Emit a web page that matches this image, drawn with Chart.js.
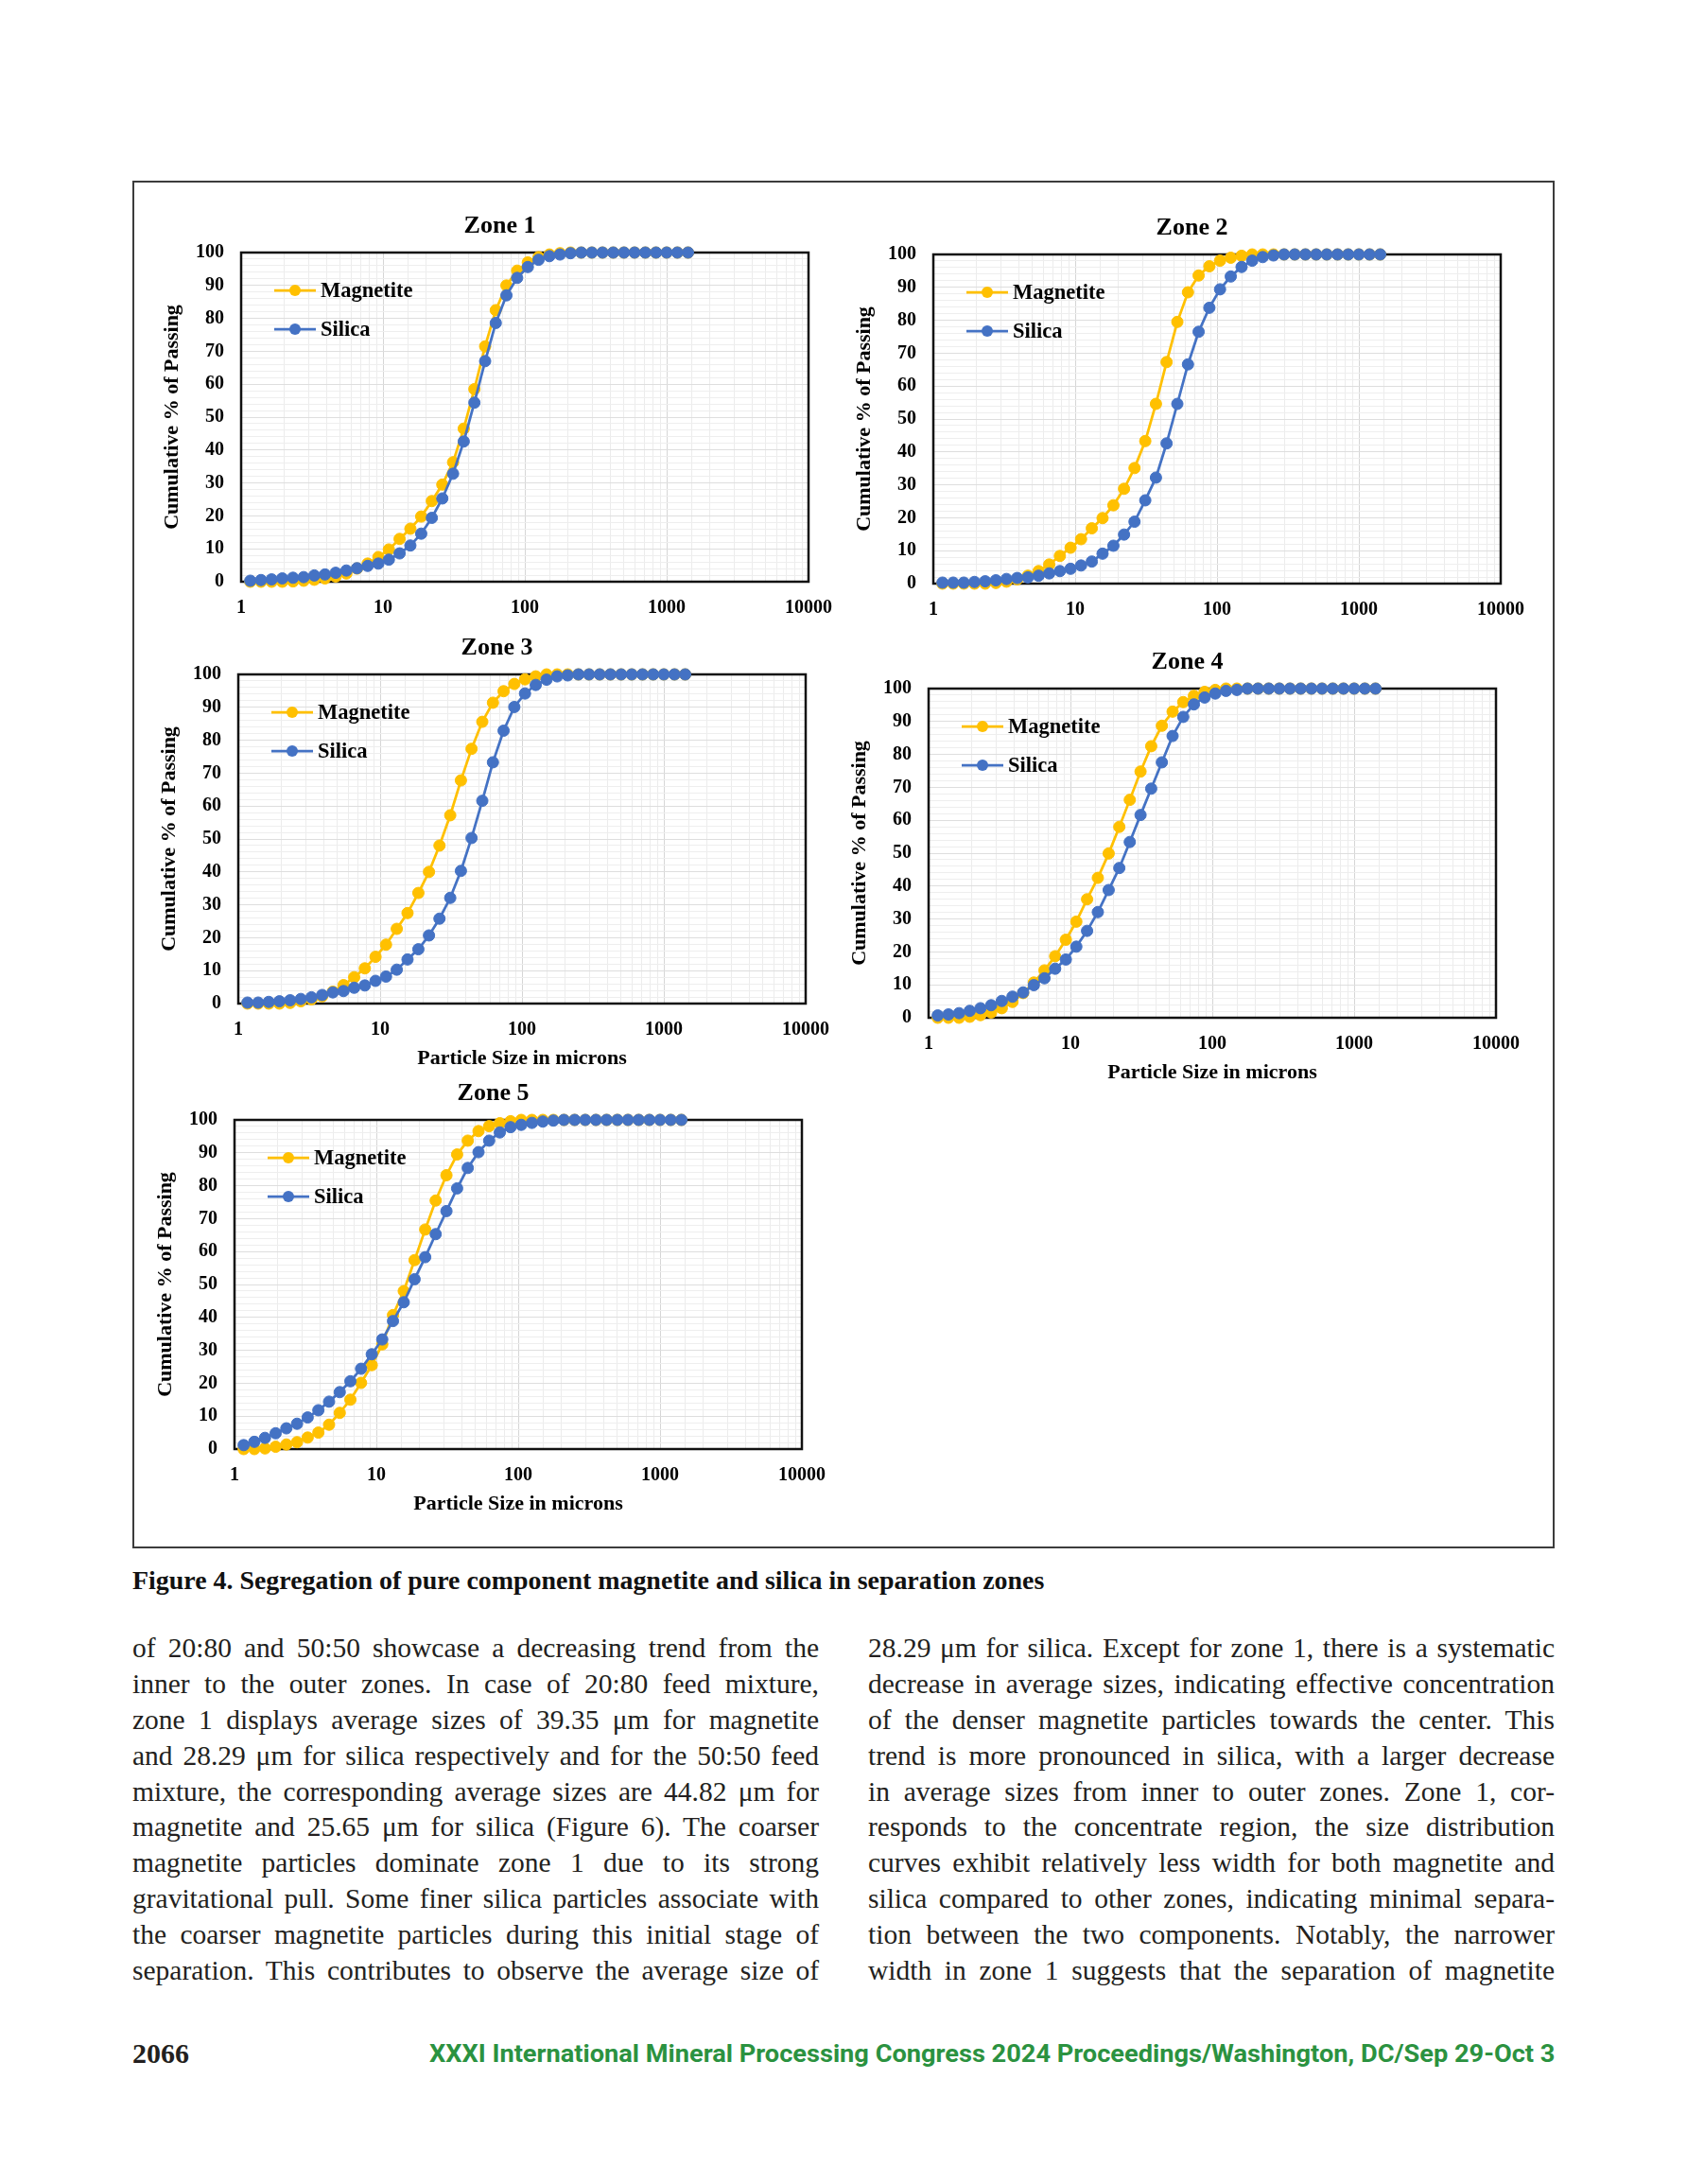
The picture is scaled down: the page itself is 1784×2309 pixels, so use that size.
<!DOCTYPE html>
<html>
<head>
<meta charset="utf-8">
<script src="https://cdn.jsdelivr.net/npm/chart.js@4.4.1/dist/chart.umd.min.js"></script>
<style>
  body { margin: 0; background: #fff; width: 1784px; height: 2309px; position: relative; overflow: hidden; }
  #frame { position: absolute; left: 140px; top: 191px; width: 1500px; height: 1442px; border: 2px solid #3c3c3c; }
  .zone { position: absolute; }
  #caption { position: absolute; left: 140px; top: 1655px; font: bold 28px 'Liberation Serif', serif; color: #111; white-space: nowrap; }
  .col { position: absolute; top: 1724px; width: 726px; font: 29.5px 'Liberation Serif', serif; color: #231f20; }
  .col div { height: 37.9px; line-height: 37.9px; text-align: justify; text-align-last: justify; white-space: nowrap; }
  #pageno { position: absolute; left: 140px; top: 2154px; font: bold 30px 'Liberation Serif', serif; color: #231f20; }
  #running { position: absolute; right: 140px; top: 2156px; font: bold 26px 'Liberation Sans Narrow', 'Roboto', sans-serif; color: #2b9240; white-space: nowrap; transform-origin: right center; }
</style>
</head>
<body>
<div id="frame"></div>
<canvas id="z1" class="zone"></canvas>
<canvas id="z2" class="zone"></canvas>
<canvas id="z3" class="zone"></canvas>
<canvas id="z4" class="zone"></canvas>
<canvas id="z5" class="zone"></canvas>

<div id="caption">Figure 4. Segregation of pure component magnetite and silica in separation zones</div>

<div class="col" style="left:140px">
  <div>of 20:80 and 50:50 showcase a decreasing trend from the</div>
  <div>inner to the outer zones. In case of 20:80 feed mixture,</div>
  <div>zone 1 displays average sizes of 39.35 μm for magnetite</div>
  <div>and 28.29 μm for silica respectively and for the 50:50 feed</div>
  <div>mixture, the corresponding average sizes are 44.82 μm for</div>
  <div>magnetite and 25.65 μm for silica (Figure 6). The coarser</div>
  <div>magnetite particles dominate zone 1 due to its strong</div>
  <div>gravitational pull. Some finer silica particles associate with</div>
  <div>the coarser magnetite particles during this initial stage of</div>
  <div>separation. This contributes to observe the average size of</div>
</div>
<div class="col" style="left:918px">
  <div>28.29 μm for silica. Except for zone 1, there is a systematic</div>
  <div>decrease in average sizes, indicating effective concentration</div>
  <div>of the denser magnetite particles towards the center. This</div>
  <div>trend is more pronounced in silica, with a larger decrease</div>
  <div>in average sizes from inner to outer zones. Zone 1, cor-</div>
  <div>responds to the concentrate region, the size distribution</div>
  <div>curves exhibit relatively less width for both magnetite and</div>
  <div>silica compared to other zones, indicating minimal separa-</div>
  <div>tion between the two components. Notably, the narrower</div>
  <div>width in zone 1 suggests that the separation of magnetite</div>
</div>

<div id="pageno">2066</div>
<div id="running">XXXI International Mineral Processing Congress 2024 Proceedings/Washington, DC/Sep 29-Oct 3</div>

<script>
// particle sizes (microns), same sieve series in every zone
const sizes = [1.16, 1.38, 1.64, 1.95, 2.32, 2.76, 3.28, 3.90, 4.64, 5.52,
  6.56, 7.80, 9.28, 11.0, 13.1, 15.6, 18.6, 22.1, 26.2, 31.2,
  37.1, 44.1, 52.5, 62.4, 74.2, 88.3, 105, 125, 149, 177,
  210, 250, 297, 353, 420, 500, 594, 707, 841, 1000,
  1189, 1414];

const zone1Magnetite = [0, 0, 0, 0, 0.1, 0.3, 0.6, 1.0, 1.6, 2.5,
  4.0, 5.5, 7.5, 9.8, 13.0, 16.1, 19.8, 24.5, 29.5, 36.3,
  46.5, 58.5, 71.5, 82.5, 90.0, 94.5, 97.0, 98.6, 99.4, 99.8,
  100, 100, 100, 100, 100, 100, 100, 100, 100, 100, 100, 100];
const zone1Silica = [0.3, 0.5, 0.7, 1.0, 1.2, 1.4, 1.9, 2.2, 2.7, 3.4,
  4.1, 4.8, 5.5, 6.7, 8.6, 11.0, 14.6, 19.4, 25.3, 32.8,
  42.6, 54.4, 67.0, 78.6, 87.0, 92.3, 95.6, 97.8, 98.9, 99.4,
  99.8, 100, 100, 100, 100, 100, 100, 100, 100, 100, 100, 100];

const zone2Magnetite = [0, 0, 0, 0, 0, 0.2, 0.6, 1.3, 2.4, 3.8,
  5.8, 8.4, 10.9, 13.5, 16.8, 19.9, 23.8, 28.8, 35.1, 43.3,
  54.6, 67.3, 79.5, 88.5, 93.6, 96.4, 98.1, 99.0, 99.6, 100,
  100, 100, 100, 100, 100, 100, 100, 100, 100, 100, 100, 100];
const zone2Silica = [0.3, 0.3, 0.3, 0.5, 0.7, 1.0, 1.4, 1.7, 1.9, 2.4,
  3.1, 3.8, 4.5, 5.5, 6.7, 9.1, 11.5, 14.9, 18.8, 25.3,
  32.2, 42.6, 54.6, 66.6, 76.5, 83.8, 89.4, 93.3, 96.2, 98.1,
  99.2, 99.7, 100, 100, 100, 100, 100, 100, 100, 100, 100, 100];

const zone3Magnetite = [0, 0, 0, 0, 0.2, 0.7, 1.3, 2.2, 3.6, 5.6,
  8.0, 10.7, 14.2, 17.9, 22.7, 27.5, 33.6, 40.0, 48.0, 57.2,
  67.8, 77.4, 85.6, 91.4, 94.9, 97.1, 98.5, 99.4, 100, 100,
  100, 100, 100, 100, 100, 100, 100, 100, 100, 100, 100, 100];
const zone3Silica = [0.3, 0.3, 0.5, 0.7, 1.0, 1.4, 1.9, 2.6, 3.4, 3.8,
  4.8, 5.5, 6.9, 8.2, 10.3, 13.4, 16.5, 20.7, 25.8, 32.1,
  40.3, 50.3, 61.6, 73.3, 82.9, 90.1, 94.2, 96.8, 98.4, 99.4,
  99.7, 100, 100, 100, 100, 100, 100, 100, 100, 100, 100, 100];

const zone4Magnetite = [0, 0, 0, 0.3, 0.8, 1.6, 2.9, 4.8, 7.5, 10.7,
  14.4, 18.7, 23.7, 29.2, 36.0, 42.5, 49.9, 58.0, 66.2, 74.8,
  82.5, 88.7, 93.0, 95.9, 97.8, 99.0, 99.6, 100, 100, 100,
  100, 100, 100, 100, 100, 100, 100, 100, 100, 100, 100, 100];
const zone4Silica = [0.7, 1.0, 1.4, 2.1, 2.9, 3.8, 5.1, 6.4, 7.7, 9.9,
  12.0, 14.9, 17.7, 21.6, 26.4, 32.1, 38.8, 45.5, 53.4, 61.6,
  69.6, 77.6, 85.6, 91.4, 95.2, 97.3, 98.5, 99.3, 99.6, 100,
  100, 100, 100, 100, 100, 100, 100, 100, 100, 100, 100, 100];

const zone5Magnetite = [0, 0, 0.2, 0.7, 1.4, 2.1, 3.5, 5.0, 7.4, 11.0,
  15.0, 20.1, 25.5, 31.8, 40.7, 48.0, 57.4, 66.7, 75.5, 83.2,
  89.5, 93.7, 96.6, 98.1, 99.0, 99.6, 100, 100, 100, 100,
  100, 100, 100, 100, 100, 100, 100, 100, 100, 100, 100, 100];
const zone5Silica = [1.2, 2.2, 3.4, 4.8, 6.3, 7.7, 9.6, 11.8, 14.4, 17.3,
  20.6, 24.4, 28.8, 33.3, 38.9, 44.6, 51.6, 58.3, 65.3, 72.3,
  79.2, 85.4, 90.2, 93.7, 96.2, 97.8, 98.5, 99.1, 99.5, 99.8,
  100, 100, 100, 100, 100, 100, 100, 100, 100, 100, 100, 100];

const xTickLabels = [1, 10, 100, 1000, 10000];
const yTickLabels = [0, 10, 20, 30, 40, 50, 60, 70, 80, 90, 100];

const zones = [
  { id: 'z1', title: 'Zone 1', magnetite: zone1Magnetite, silica: zone1Silica, plotX: 255, plotY: 267, xTitle: false },
  { id: 'z2', title: 'Zone 2', magnetite: zone2Magnetite, silica: zone2Silica, plotX: 987, plotY: 269, xTitle: false },
  { id: 'z3', title: 'Zone 3', magnetite: zone3Magnetite, silica: zone3Silica, plotX: 252, plotY: 713, xTitle: true },
  { id: 'z4', title: 'Zone 4', magnetite: zone4Magnetite, silica: zone4Silica, plotX: 982, plotY: 728, xTitle: true },
  { id: 'z5', title: 'Zone 5', magnetite: zone5Magnetite, silica: zone5Silica, plotX: 248, plotY: 1184, xTitle: true }
];

const serif = "'Liberation Serif', 'Times New Roman', serif";
// plot area is padL px in from the canvas left; the title box starts at padIn
const plotW = 601, plotH = 348, padL = 110, padIn = 56, padTop = 60, padR = 40;

// black box round the plot area, under the markers
const plotBox = {
  id: 'plotBox',
  beforeDatasetsDraw(chart) {
    const a = chart.chartArea, c = chart.ctx;
    c.save();
    c.strokeStyle = '#111';
    c.lineWidth = 2.5;
    c.strokeRect(a.left, a.top, a.right - a.left, a.bottom - a.top);
    c.restore();
  }
};

// legend drawn inside the plot, top left
const insideLegend = {
  id: 'insideLegend',
  afterDatasetsDraw(chart) {
    const a = chart.chartArea, c = chart.ctx;
    c.save();
    chart.data.datasets.forEach((ds, i) => {
      const y = a.top + 40 + i * 41;
      const x0 = a.left + 35;
      c.strokeStyle = ds.borderColor;
      c.lineWidth = 2.75;
      c.beginPath();
      c.moveTo(x0, y);
      c.lineTo(x0 + 44, y);
      c.stroke();
      c.fillStyle = ds.backgroundColor;
      c.beginPath();
      c.arc(x0 + 22, y, 6, 0, Math.PI * 2);
      c.fill();
      c.fillStyle = '#000';
      c.font = 'bold 22.5px ' + serif;
      c.textBaseline = 'middle';
      c.fillText(ds.label, x0 + 49, y + 1);
    });
    c.restore();
  }
};

zones.forEach(z => {
  const xH = z.xTitle ? 80 : 45;
  const cv = document.getElementById(z.id);
  cv.width = padL + plotW + padR;
  cv.height = padTop + plotH + xH;
  cv.style.left = (z.plotX - padL) + 'px';
  cv.style.top = (z.plotY - padTop) + 'px';

  new Chart(cv, {
    type: 'line',
    data: {
      datasets: [{
        label: 'Magnetite',
        data: sizes.map((s, i) => ({ x: s, y: z.magnetite[i] })),
        borderColor: '#FFC000',
        backgroundColor: '#FFC000',
        borderWidth: 2.75,
        pointRadius: 6,
        pointBorderWidth: 1,
        tension: 0,
        clip: false,
        order: 1
      }, {
        label: 'Silica',
        data: sizes.map((s, i) => ({ x: s, y: z.silica[i] })),
        borderColor: '#4472C4',
        backgroundColor: '#4472C4',
        borderWidth: 2.75,
        pointRadius: 6,
        pointBorderWidth: 1,
        tension: 0,
        clip: false,
        order: 0
      }]
    },
    options: {
      responsive: false,
      animation: false,
      layout: { padding: { left: padIn, right: padR, top: 0, bottom: 0 } },
      plugins: {
        legend: { display: false },
        tooltip: { enabled: false },
        title: {
          display: true,
          text: z.title,
          color: '#000',
          font: { family: serif, size: 26, weight: 'bold' },
          padding: { top: 16.8, bottom: 12 }
        }
      },
      scales: {
        x: {
          type: 'logarithmic',
          min: 1,
          max: 10000,
          afterFit: s => { s.height = xH; },
          border: { display: false },
          grid: {
            drawTicks: false,
            lineWidth: 1,
            color: c => xTickLabels.includes(c.tick.value) ? '#d6d6d6' : '#ececec'
          },
          ticks: {
            autoSkip: false,
            maxRotation: 0,
            padding: 16,
            color: '#000',
            font: { family: serif, size: 20, weight: 'bold' },
            callback: v => xTickLabels.includes(v) ? String(v) : ''
          },
          title: {
            display: z.xTitle,
            text: 'Particle Size in microns',
            color: '#000',
            font: { family: serif, size: 22, weight: 'bold' },
            padding: { top: 0, bottom: 8 }
          }
        },
        y: {
          min: 0,
          max: 100,
          afterFit: s => { s.width = padL - padIn; },
          border: { display: false },
          grid: {
            drawTicks: false,
            lineWidth: 1,
            color: c => c.tick.value % 10 === 0 ? '#dedede' : '#eeeeee'
          },
          ticks: {
            stepSize: 2,
            autoSkip: false,
            padding: 18,
            color: '#000',
            font: { family: serif, size: 20, weight: 'bold' },
            callback: v => yTickLabels.includes(v) ? String(v) : ''
          },
          title: {
            display: true,
            text: 'Cumulative % of Passing',
            color: '#000',
            font: { family: serif, size: 22, weight: 'bold' },
            padding: { top: 37 - padIn - 13.2, bottom: 0 }
          }
        }
      }
    },
    plugins: [plotBox, insideLegend]
  });
});

// keep every printed line on one justified line
document.querySelectorAll('.col div').forEach(d => {
  d.style.textAlignLast = 'left';
  d.innerHTML = '<span>' + d.innerHTML + '</span>';
  const w = d.firstChild.offsetWidth;
  if (w > 724) d.style.letterSpacing = ((724 - w) / d.textContent.length) + 'px';
  d.style.textAlignLast = '';
});

// caption and running footer at their printed widths
const cap = document.getElementById('caption');
cap.style.fontSize = (28 * 965 / cap.offsetWidth) + 'px';
const run = document.getElementById('running');
run.style.transform = 'scaleX(' + (1190 / run.offsetWidth) + ')';
</script>
</body>
</html>
